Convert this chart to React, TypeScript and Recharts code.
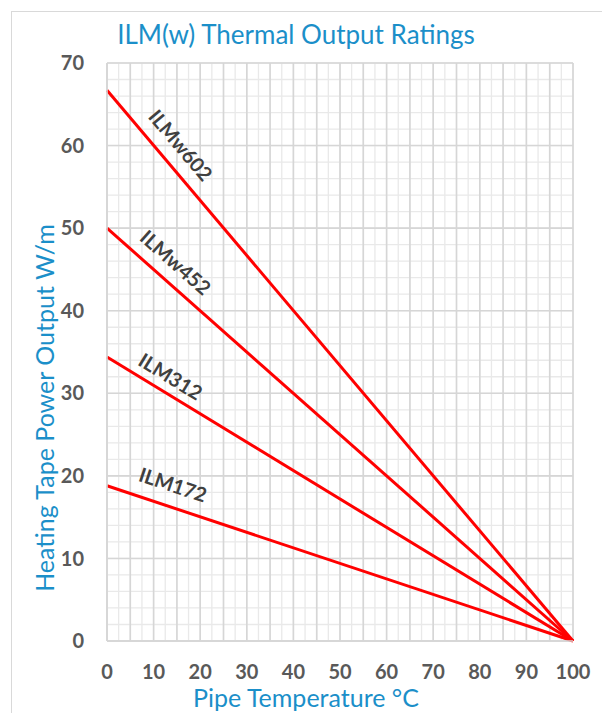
import React from "react";
import {
  LineChart,
  Line,
  XAxis,
  YAxis,
  CartesianGrid,
  ReferenceDot,
  Customized,
} from "recharts";

// pipe temperature, °C
const temperature = [0, 100];

// rated output W/m at each temperature
const ilmw602 = [66.7, 0];
const ilmw452 = [50, 0];
const ilm312 = [34.4, 0];
const ilm172 = [18.8, 0];

const seriesNames = ["ILMw602", "ILMw452", "ILM312", "ILM172"];
const seriesValues = [ilmw602, ilmw452, ilm312, ilm172];

// where the inline labels sit (data coords)
const labelTemp = [15.9, 14.8, 13.7, 14.2];
const labelPower = [60.1, 45.9, 32.1, 19.0];
const labelAngle = [49.7, 41.5, 31.4, 18.4];

const xTicks = [0, 10, 20, 30, 40, 50, 60, 70, 80, 90, 100];
const xMajorGrid = [0, 5, 10, 15, 20, 25, 30, 35, 40, 45, 50, 55, 60, 65, 70, 75, 80, 85, 90, 95, 100];
const xMinorGrid = [
  0, 2.5, 5, 7.5, 10, 12.5, 15, 17.5, 20, 22.5, 25, 27.5, 30, 32.5, 35, 37.5, 40, 42.5, 45, 47.5, 50,
  52.5, 55, 57.5, 60, 62.5, 65, 67.5, 70, 72.5, 75, 77.5, 80, 82.5, 85, 87.5, 90, 92.5, 95, 97.5, 100,
];
const yTicks = [0, 10, 20, 30, 40, 50, 60, 70];
const yMinorGrid = [
  0, 2, 4, 6, 8, 10, 12, 14, 16, 18, 20, 22, 24, 26, 28, 30, 32, 34, 36, 38, 40, 42, 44, 46, 48, 50, 52,
  54, 56, 58, 60, 62, 64, 66, 68, 70,
];

const chartData = temperature.map((t, i) => {
  const row: Record<string, number> = { t };
  seriesNames.forEach((name, s) => {
    row[name] = seriesValues[s][i];
  });
  return row;
});

const FONT = "Lato, 'Open Sans', sans-serif";
const BLUE = "#1b8fc9";
const TICK = { fill: "#595959", fontSize: 20, fontWeight: 700, fontFamily: FONT };

function Title() {
  return (
    <text x={296} y={44} textAnchor="middle" fill={BLUE} fontSize={26} fontFamily={FONT}>
      ILM(w) Thermal Output Ratings
    </text>
  );
}

export default function App() {
  return (
    <div
      style={{
        position: "absolute",
        left: 0,
        top: 0,
        width: 602,
        height: 713,
        background: "#fff",
        overflow: "hidden",
      }}
    >
      <div
        style={{
          position: "absolute",
          left: 11,
          top: 11,
          width: 620,
          height: 730,
          border: "1px solid #d9d9d9",
        }}
      />
      <div style={{ position: "absolute", left: 0, top: 0 }}>
        <LineChart
          width={602}
          height={713}
          data={chartData}
          margin={{ top: 63, right: 29, bottom: 32, left: 47 }}
        >
          <XAxis xAxisId="minor" dataKey="t" type="number" domain={[0, 100]} ticks={xMinorGrid} interval={0} hide />
          <XAxis xAxisId="major" dataKey="t" type="number" domain={[0, 100]} ticks={xMajorGrid} interval={0} hide />
          <YAxis
            yAxisId="minor"
            dataKey="ILMw602"
            type="number"
            domain={[0, 70]}
            ticks={yMinorGrid}
            interval={0}
            hide
          />
          <CartesianGrid xAxisId="minor" yAxisId="minor" stroke="#e9e9e9" strokeWidth={1.3} />
          <CartesianGrid xAxisId="major" yAxisId="main" stroke="#d6d6d6" strokeWidth={1.6} />
          <XAxis
            xAxisId="main"
            dataKey="t"
            type="number"
            domain={[0, 100]}
            ticks={xTicks}
            height={40}
            tickSize={0}
            tickMargin={24}
            axisLine={{ stroke: "#d6d6d6", strokeWidth: 1.6 }}
            tick={TICK}
            interval={0}
            label={{
              content: () => (
                <text x={306} y={707} textAnchor="middle" fill={BLUE} fontSize={25} fontFamily={FONT}>
                  Pipe Temperature °C
                </text>
              ),
            }}
          />
          <YAxis
            yAxisId="main"
            type="number"
            domain={[0, 70]}
            ticks={yTicks}
            width={60}
            tickSize={0}
            tickMargin={23}
            axisLine={{ stroke: "#d6d6d6", strokeWidth: 1.6 }}
            tick={TICK}
            interval={0}
            label={{
              content: () => (
                <text
                  x={54}
                  y={408}
                  transform="rotate(-90 54 408)"
                  textAnchor="middle"
                  fill={BLUE}
                  fontSize={25}
                  fontFamily={FONT}
                >
                  Heating Tape Power Output W/m
                </text>
              ),
            }}
          />
          {seriesNames.map((name) => (
            <Line
              key={name}
              xAxisId="main"
              yAxisId="main"
              dataKey={name}
              type="linear"
              stroke="#ff0000"
              strokeWidth={3}
              dot={false}
              isAnimationActive={false}
            />
          ))}
          {seriesNames.map((name, i) => (
            <ReferenceDot
              key={`lbl-${name}`}
              xAxisId="main"
              yAxisId="main"
              x={labelTemp[i]}
              y={labelPower[i]}
              r={0}
              ifOverflow="visible"
              shape={(p: any) => (
                <text
                  x={p.cx}
                  y={p.cy}
                  transform={`rotate(${labelAngle[i]} ${p.cx} ${p.cy})`}
                  textAnchor="middle"
                  dominantBaseline="central"
                  fill="#404040"
                  fontSize={20}
                  fontWeight={700}
                  fontFamily={FONT}
                >
                  {name}
                </text>
              )}
            />
          ))}
          <Customized component={<Title />} />
        </LineChart>
      </div>
    </div>
  );
}
